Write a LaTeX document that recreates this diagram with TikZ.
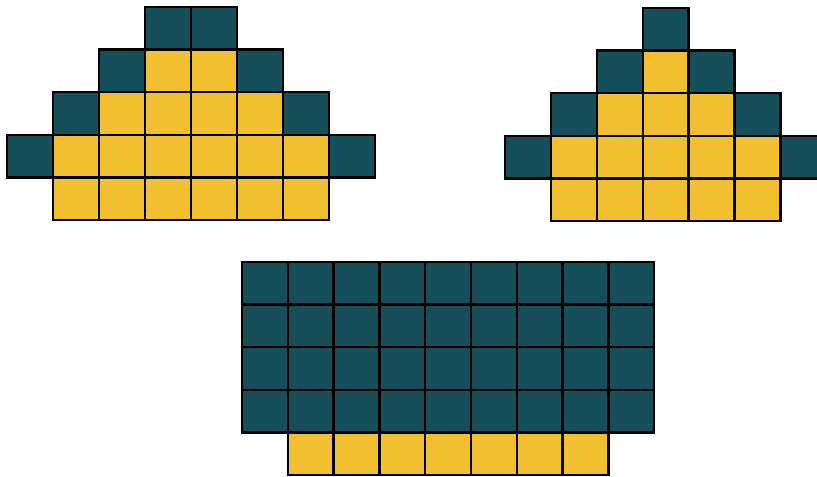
\documentclass[tikz,border=0pt]{standalone}
\usepackage{tikz}
\usetikzlibrary{positioning}
\definecolor{DeepTeal}{RGB}{22,78,90}
\definecolor{Mustard}{RGB}{241,191,48}

\begin{document}
\begin{tikzpicture}[x=0.03cm,y=-0.03cm,
        cell/.style={draw=black,line width=2pt,inner sep=0pt,outer sep=0pt,
                     minimum width=1.377cm,minimum height=1.278cm,anchor=north west},
        t cell/.style={cell,fill=DeepTeal},
        y cell/.style={cell,fill=Mustard}
      ]
        \clip (0,0) rectangle (817,476);
        % left pyramid
        \foreach \row/\first/\pattern in {0/3/{t,t},1/2/{t,y,y,t},2/1/{t,y,y,y,y,t},
                                          3/0/{t,y,y,y,y,y,y,t},4/1/{y,y,y,y,y,y}}
          \foreach [count=\i from 0] \s in \pattern
            \node[\s\space cell] (L-\row-\i) at ({7+46*(\first+\i)},{7+42.6*\row}) {};
        % right pyramid
        \foreach \row/\first/\pattern in {0/3/{t},1/2/{t,y,t},2/1/{t,y,y,y,t},
                                          3/0/{t,y,y,y,y,y,t},4/1/{y,y,y,y,y}}
          \foreach [count=\i from 0] \s in \pattern
            \node[\s\space cell] (R-\row-\i) at ({505+45.9*(\first+\i)},{8+42.6*\row}) {};
        % bottom block
        \foreach \row in {0,...,3}
          \foreach \col in {0,...,8}
            \node[t cell] (B-\row-\col) at ({242+45.8*\col},{262+42.6*\row}) {};
        \foreach \col in {1,...,7}
          \node[y cell] (B-4-\col) at ({242+45.8*\col},{262+42.6*4}) {};
      \end{tikzpicture}
\end{document}
